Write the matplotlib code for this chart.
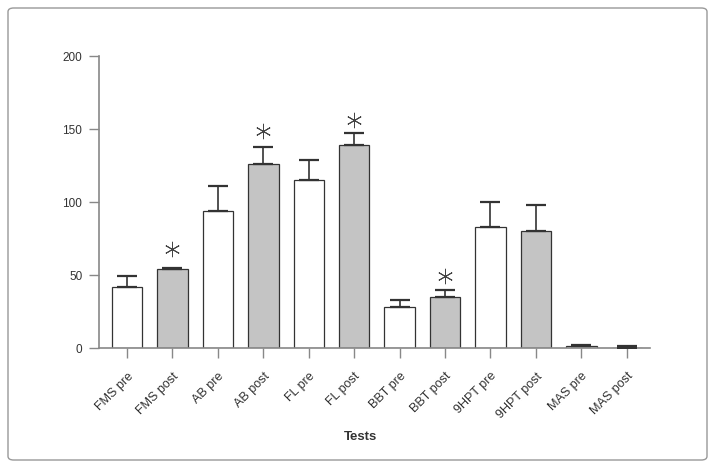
import numpy as np
import matplotlib.pyplot as plt
from matplotlib.patches import FancyBboxPatch

# data
tests = ['FMS pre', 'FMS post', 'AB pre', 'AB post', 'FL pre', 'FL post',
         'BBT pre', 'BBT post', '9HPT pre', '9HPT post', 'MAS pre', 'MAS post']
means = [42, 54, 94, 126, 115, 139, 28, 35, 83, 80, 1.5, 0]
errors = [7, 1, 17, 12, 14, 8, 5, 5, 17, 18, 0.5, 1.5]
post = [False, True, False, True, False, True, False, True, False, True, False, True]
star_tests = ['FMS post', 'AB post', 'FL post', 'BBT post']
star_y = [68, 148.5, 156, 49.5]

plt.rcParams['font.family'] = ['Liberation Sans', 'DejaVu Sans']

fig = plt.figure(figsize=(7.15, 4.68), dpi=100)
ax = fig.add_axes([0.1385, 0.2564, 0.7705, 0.6239])

x = np.arange(len(tests))
cols = ['#c4c4c4' if p else 'white' for p in post]
ax.bar(x, means, width=0.67, color=cols, edgecolor='#333333', linewidth=0.9, zorder=2)
ax.errorbar(x, means, yerr=[np.zeros(len(x)), errors], fmt='none', ecolor='#333333',
            elinewidth=1.2, capsize=7.5, capthick=1.6, zorder=3)

sx = [tests.index(t) for t in star_tests]
ax.plot(sx, star_y, linestyle='none', marker=(6, 2, 0), markersize=11,
        color='#444444', markeredgewidth=0.7)

ax.set_xlim(-0.616, 11.51)
ax.set_ylim(0, 200)
ax.set_yticks([0, 50, 100, 150, 200])
ax.set_xticks(x)
ax.set_xticklabels(tests, rotation=45, ha='right', va='top', rotation_mode='anchor',
                   fontsize=9, color='#333333')
ax.tick_params(axis='y', labelsize=8.5, labelcolor='#333333', color='#888888',
               length=7, width=1, pad=5)
ax.tick_params(axis='x', color='#888888', length=7, width=1, pad=9)

for s in ['top', 'right']:
    ax.spines[s].set_visible(False)
for s in ['left', 'bottom']:
    ax.spines[s].set_color('#888888')
    ax.spines[s].set_linewidth(1.2)

fig.text(361 / 715, 1 - 437 / 468, 'Tests', fontsize=9.5, fontweight='bold',
         color='#333333', ha='center', va='center')

frame = FancyBboxPatch((8 / 715, 8 / 468), 699 / 715, 452 / 468,
                       boxstyle='round,pad=0,rounding_size=0.008',
                       transform=fig.transFigure, fill=False,
                       edgecolor='#999999', linewidth=1.0)
fig.patches.append(frame)

fig.savefig('out.png', dpi=100)
